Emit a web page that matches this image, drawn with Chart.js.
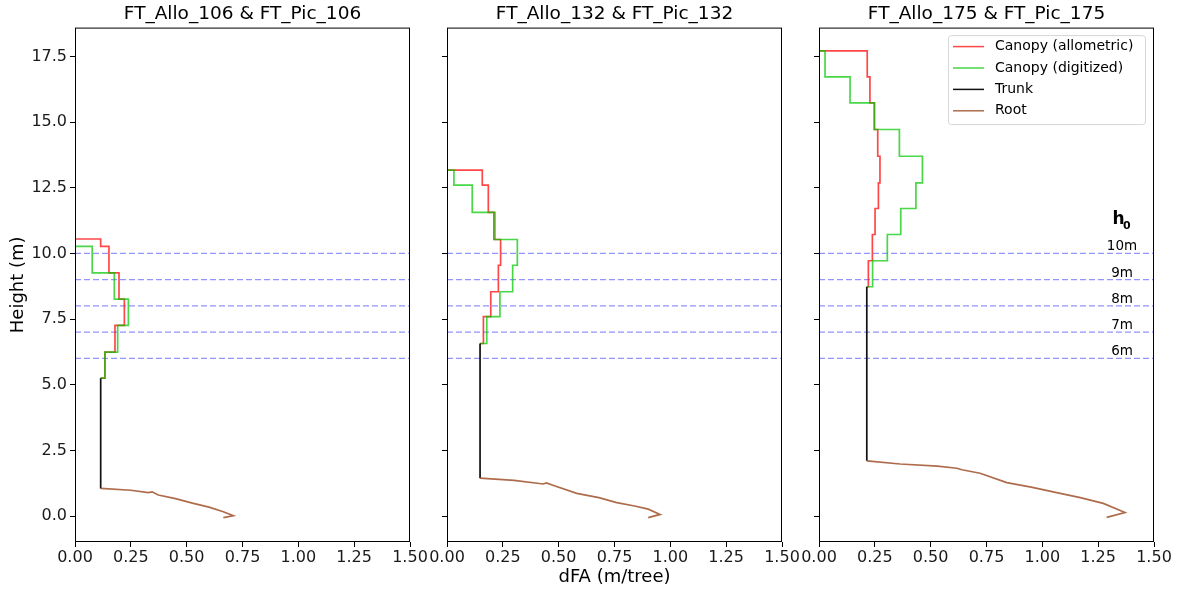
<!DOCTYPE html>
<html lang="en">
<head>
<meta charset="UTF-8">
<title>dFA profiles</title>
<script src="https://cdn.jsdelivr.net/npm/chart.js"></script>
<style>
    body { margin: 0; background: #fff; }
    #wrap { position: relative; width: 1181px; height: 591px; }
    #wrap canvas { position: absolute; top: 0; }
</style>
</head>
<body>
<div id="wrap">
    <canvas id="c1" width="430" height="591" style="left:0px"></canvas>
    <canvas id="c2" width="385" height="591" style="left:417px"></canvas>
    <canvas id="c3" width="385" height="591" style="left:789px"></canvas>
</div>
<script>
const titles = ['FT_Allo_106 & FT_Pic_106', 'FT_Allo_132 & FT_Pic_132', 'FT_Allo_175 & FT_Pic_175'];
const xTicks = [0, 0.25, 0.5, 0.75, 1.0, 1.25, 1.5];
const yTicks = [0, 2.5, 5, 7.5, 10, 12.5, 15, 17.5];
const h0Levels = [10, 9, 8, 7, 6];
const h0Labels = ['10m', '9m', '8m', '7m', '6m'];
const legendLabels = ['Canopy (allometric)', 'Canopy (digitized)', 'Trunk', 'Root'];

// FT 106
const allo106Levels = [10.55, 10.27, 9.26, 8.26, 7.26, 6.24, 5.25];
const allo106Width = [0.115, 0.152, 0.197, 0.221, 0.179, 0.134];
const pic106Levels = [10.27, 9.26, 8.26, 7.26, 6.24, 5.25];
const pic106Width = [0.077, 0.176, 0.239, 0.191, 0.134];
const root106X = [0.115, 0.25, 0.328, 0.345, 0.373, 0.45, 0.53, 0.60, 0.664, 0.709, 0.664];
const root106Y = [1.05, 0.98, 0.89, 0.92, 0.80, 0.66, 0.48, 0.34, 0.16, 0.01, -0.06];

// FT 132
const allo132Levels = [13.17, 12.60, 11.56, 10.53, 9.55, 8.54, 7.59, 6.57];
const allo132Width = [0.158, 0.185, 0.210, 0.240, 0.230, 0.196, 0.163];
const pic132Levels = [13.17, 12.60, 11.56, 10.53, 9.55, 8.54, 7.59, 6.57];
const pic132Width = [0.031, 0.113, 0.215, 0.315, 0.294, 0.237, 0.178];
const root132X = [0.148, 0.30, 0.431, 0.445, 0.484, 0.581, 0.68, 0.76, 0.84, 0.901, 0.954, 0.901];
const root132Y = [1.44, 1.36, 1.22, 1.26, 1.14, 0.86, 0.70, 0.51, 0.38, 0.26, 0.06, -0.06];

// FT 175
const allo175Levels = [17.71, 16.72, 15.73, 14.72, 13.70, 12.69, 11.71, 10.72, 9.72, 8.73];
const allo175Width = [0.216, 0.228, 0.248, 0.263, 0.273, 0.266, 0.251, 0.239, 0.221];
const pic175Levels = [17.71, 16.72, 15.73, 14.72, 13.70, 12.69, 11.71, 10.72, 9.72, 8.73];
const pic175Width = [0.027, 0.139, 0.248, 0.360, 0.463, 0.434, 0.366, 0.306, 0.240];
const root175X = [0.214, 0.363, 0.53, 0.617, 0.64, 0.721, 0.841, 0.95, 1.064, 1.17, 1.273, 1.37, 1.288];
const root175Y = [2.10, 1.98, 1.90, 1.82, 1.76, 1.63, 1.27, 1.10, 0.89, 0.70, 0.48, 0.13, -0.05];

// trunk (one per tree)
const trunkX = [0.115, 0.148, 0.214];
const trunkTop = [5.25, 6.57, 8.73];
const trunkBase = [1.05, 1.44, 2.10];

const FONT = "'DejaVu Sans', sans-serif";
const COLORS = {
    allo: 'rgba(255,0,0,0.72)',
    pic: 'rgba(0,200,0,0.72)',
    trunk: '#111111',
    root: 'rgba(160,82,45,0.85)',
    h0: 'rgba(60,60,255,0.55)'
};
Chart.defaults.font.family = FONT;
Chart.defaults.color = '#000';

// step profile: horizontal at each level, vertical between levels, then to the trunk
function steps(levels, widths, trunk) {
    const pts = [{x: 0, y: levels[0]}];
    widths.forEach((w, i) => {
        pts.push({x: w, y: levels[i]});
        pts.push({x: w, y: levels[i + 1]});
    });
    pts.push({x: trunk, y: levels[levels.length - 1]});
    return pts;
}

function zip(xs, ys) {
    return xs.map((x, i) => ({x: x, y: ys[i]}));
}

// box round the axes + title centred on the plot area
const framePlugin = {
    id: 'frame',
    afterDraw(chart) {
        const {ctx, chartArea: a} = chart;
        ctx.save();
        ctx.strokeStyle = '#000';
        ctx.lineWidth = 1;
        ctx.strokeRect(a.left + 0.5, a.top + 0.5, a.right - a.left - 1, a.bottom - a.top - 1);
        ctx.fillStyle = '#000';
        ctx.font = '18.5px ' + FONT;
        ctx.textAlign = 'center';
        ctx.textBaseline = 'middle';
        ctx.fillText(chart.options.plugins.panelTitle.text, (a.left + a.right) / 2, a.top - 13.8);
        ctx.restore();
    }
};

// h0 labels and legend, only on the last panel
const annotPlugin = {
    id: 'annot',
    afterDraw(chart) {
        const {ctx, chartArea: a} = chart;
        const y = chart.scales.y;
        ctx.save();
        ctx.fillStyle = '#000';
        ctx.textAlign = 'center';
        ctx.textBaseline = 'alphabetic';
        ctx.font = '13.5px ' + FONT;
        h0Levels.forEach((h, i) => {
            ctx.fillText(h0Labels[i], a.right - 32, y.getPixelForValue(h) - 3);
        });
        const yTop = y.getPixelForValue(h0Levels[0]);
        ctx.textAlign = 'left';
        ctx.font = 'bold 17px ' + FONT;
        ctx.fillText('h', a.right - 41.5, yTop - 29.5);
        ctx.font = 'bold 11px ' + FONT;
        ctx.fillText('0', a.right - 31, yTop - 24.5);

        // legend box
        const bx = a.right - 206, by = a.top + 7.5, bw = 197, bh = 89;
        ctx.beginPath();
        ctx.roundRect(bx + 0.5, by + 0.5, bw, bh, 3);
        ctx.fillStyle = 'rgba(255,255,255,0.8)';
        ctx.fill();
        ctx.strokeStyle = '#d6d6d6';
        ctx.lineWidth = 1;
        ctx.stroke();
        const cols = [COLORS.allo, COLORS.pic, COLORS.trunk, COLORS.root];
        ctx.font = '14px ' + FONT;
        ctx.textBaseline = 'middle';
        legendLabels.forEach((lab, i) => {
            const ry = by + 11.5 + i * 21.4;
            ctx.beginPath();
            ctx.moveTo(bx + 5, ry);
            ctx.lineTo(bx + 36, ry);
            ctx.strokeStyle = cols[i];
            ctx.lineWidth = 1.5;
            ctx.stroke();
            ctx.fillStyle = '#000';
            ctx.fillText(lab, bx + 47, ry);
        });
        ctx.restore();
    }
};

const panels = [
    {id: 'c1', allo: steps(allo106Levels, allo106Width, trunkX[0]), pic: steps(pic106Levels, pic106Width, trunkX[0]), root: zip(root106X, root106Y)},
    {id: 'c2', allo: steps(allo132Levels, allo132Width, trunkX[1]), pic: steps(pic132Levels, pic132Width, trunkX[1]), root: zip(root132X, root132Y)},
    {id: 'c3', allo: steps(allo175Levels, allo175Width, trunkX[2]), pic: steps(pic175Levels, pic175Width, trunkX[2]), root: zip(root175X, root175Y)}
];

panels.forEach((p, idx) => {
    const line = {showLine: true, pointRadius: 0, tension: 0, fill: false, borderWidth: 1.7};
    const datasets = [
        Object.assign({label: 'Root', data: p.root, borderColor: COLORS.root}, line),
        Object.assign({label: 'Trunk', data: [{x: trunkX[idx], y: trunkTop[idx]}, {x: trunkX[idx], y: trunkBase[idx]}], borderColor: COLORS.trunk}, line),
        Object.assign({label: 'Canopy (digitized)', data: p.pic, borderColor: COLORS.pic}, line),
        Object.assign({label: 'Canopy (allometric)', data: p.allo, borderColor: COLORS.allo}, line)
    ];
    h0Levels.forEach(h => {
        datasets.push(Object.assign({}, line, {
            label: 'h0 ' + h,
            data: [{x: xTicks[0], y: h}, {x: xTicks[xTicks.length - 1], y: h}],
            borderColor: COLORS.h0,
            borderDash: [6, 3],
            borderWidth: 1.3
        }));
    });

    new Chart(document.getElementById(p.id), {
        type: 'line',
        data: {datasets: datasets},
        plugins: idx === 2 ? [framePlugin, annotPlugin] : [framePlugin],
        options: {
            responsive: false,
            animation: false,
            devicePixelRatio: 1,
            layout: {padding: {top: 27.6, right: 20, bottom: 0, left: 0}},
            plugins: {
                legend: {display: false},
                tooltip: {enabled: false},
                title: {display: false},
                panelTitle: {text: titles[idx]}
            },
            scales: {
                x: {
                    type: 'linear',
                    min: xTicks[0],
                    max: xTicks[xTicks.length - 1],
                    afterBuildTicks: s => { s.ticks = xTicks.map(v => ({value: v})); },
                    afterFit: s => { s.height = 49; },
                    grid: {drawOnChartArea: false, drawTicks: true, tickLength: 5, color: '#000'},
                    border: {display: false},
                    ticks: {
                        font: {size: 16},
                        color: '#1a1a1a',
                        padding: 1,
                        maxRotation: 0,
                        autoSkip: false,
                        callback: v => Number(v).toFixed(2)
                    },
                    title: {
                        display: idx === 1,
                        text: 'dFA (m/tree)',
                        color: '#000',
                        font: {size: 18},
                        padding: {top: 0, bottom: 3}
                    }
                },
                y: {
                    type: 'linear',
                    min: -0.99,
                    max: 18.6,
                    afterBuildTicks: s => { s.ticks = yTicks.map(v => ({value: v})); },
                    afterFit: s => { s.width = idx === 0 ? 75 : 30; },
                    grid: {drawOnChartArea: false, drawTicks: true, tickLength: 5, color: '#000'},
                    border: {display: false},
                    ticks: {
                        display: idx === 0,
                        font: {size: 16},
                        color: '#1a1a1a',
                        padding: 3,
                        callback: v => Number(v).toFixed(1)
                    },
                    title: {
                        display: idx === 0,
                        text: 'Height (m)',
                        color: '#000',
                        font: {size: 18},
                        padding: {top: 8, bottom: 0}
                    }
                }
            }
        }
    });
});
</script>
</body>
</html>
